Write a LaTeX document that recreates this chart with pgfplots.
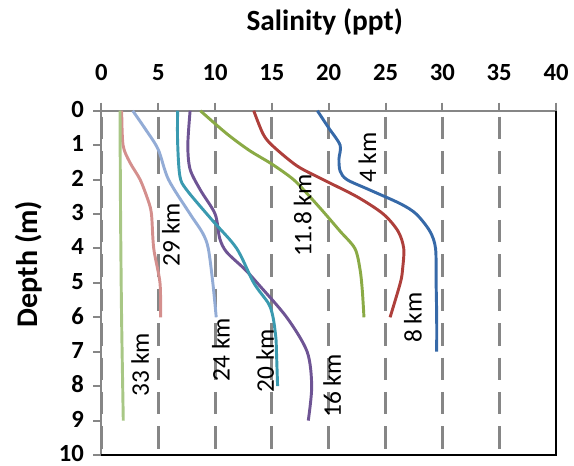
\documentclass[border=0pt]{standalone}
\usepackage{fontspec}
\setmainfont{Carlito}
\usepackage{pgfplots}
\pgfplotsset{compat=1.18}
\definecolor{axisgray}{HTML}{868686}
\definecolor{cblue}{HTML}{3669A8}
\definecolor{cred}{HTML}{AE3F3B}
\definecolor{cgreen}{HTML}{8AAA45}
\definecolor{cteal}{HTML}{3A9AB0}
\definecolor{cpurple}{HTML}{6E5494}
\definecolor{clgreen}{HTML}{A8C785}
\definecolor{cpink}{HTML}{D48F8D}
\definecolor{clblue}{HTML}{93ACD6}
\begin{document}
\begin{tikzpicture}
\useasboundingbox (-76.1pt,-7.5pt) rectangle (354.4pt,341.25pt);
\begin{axis}[
  at={(0,0)}, anchor=south west,
  scale only axis, width=340.9pt, height=258.2pt,
  xmin=0, xmax=40, ymin=0, ymax=10, y dir=reverse,
  axis x line*=top, axis y line*=left,
  axis line style={-, draw=axisgray, line width=1.5pt},
  xtick={0,5,...,40}, ytick={0,1,...,10},
  tick align=outside, major tick length=6pt,
  tick style={draw=axisgray, line width=1.5pt},
  xmajorgrids,
  major x grid style={draw=axisgray, line width=2.2pt, dash pattern=on 16.8pt off 9pt, dash phase=21.3pt},
  /pgf/number format/assume math mode=true,
  ticklabel style={font=\bfseries\fontsize{18.5}{20}\selectfont},
  xticklabel style={yshift=13pt},
  yticklabel style={xshift=-6pt, yshift=1.2pt, inner sep=1pt},
  title={Salinity (ppt)},
  title style={at={(axis description cs:0.491,1.236)}, anchor=center, font=\bfseries\fontsize{22}{24}\selectfont},
  ylabel={Depth (m)},
  ylabel style={at={(axis description cs:-0.1606,0.5548)}, anchor=center, font=\bfseries\fontsize{22.5}{24}\selectfont},
  every axis plot/.append style={line width=2.2pt, smooth, tension=0.5, no markers},
  clip=false,
]
\draw[black, line width=1.5pt] (axis cs:0,10) -- (axis cs:40,10) -- (axis cs:40,0);
% 4 km
\addplot[cblue] coordinates {(19.0,0) (20.0,0.5) (21.0,1) (20.9,1.4) (21.0,1.75) (21.6,2) (23.6,2.3) (26.3,2.7) (27.7,3) (28.9,3.5) (29.4,4) (29.45,5) (29.5,6) (29.5,7)};
% 8 km
\addplot[cred] coordinates {(13.4,0) (14.2,0.66) (15.0,1) (17.2,1.6) (19.5,2) (22.5,2.5) (24.8,3) (26.1,3.5) (26.6,4) (26.5,4.6) (26.3,5) (25.4,6)};
% 11.8 km
\addplot[cgreen] coordinates {(8.7,0) (11.0,0.66) (13.0,1.15) (15.0,1.55) (16.9,2) (18.35,2.5) (19.7,3) (21.0,3.5) (22.3,4) (22.75,4.6) (22.95,5.2) (23.1,6)};
% 16 km
\addplot[cpurple] coordinates {(7.8,0) (7.6,1) (7.8,1.7) (8.7,2.3) (10.0,3) (10.4,3.7) (11.0,4.1) (12.6,4.6) (13.7,5) (16.3,6) (18.1,7) (18.5,8) (18.2,9)};
% 20 km
\addplot[cteal] coordinates {(6.7,0) (6.7,0.9) (6.9,1.9) (7.5,2.3) (9.8,3.2) (11.9,4) (13.4,5) (14.7,5.6) (15.1,6) (15.35,6.6) (15.4,7) (15.5,8)};
% 24 km
\addplot[clblue] coordinates {(2.75,0) (3.9,0.55) (5.0,1.13) (5.9,2) (7.8,3) (8.9,3.55) (9.4,4) (9.8,5) (10.1,6)};
% 29 km
\addplot[cpink] coordinates {(1.78,0) (1.9,1) (2.5,1.5) (3.4,2) (4.1,2.6) (4.4,3) (4.6,4) (5.15,5) (5.2,6)};
% 33 km
\addplot[clgreen] coordinates {(1.63,0) (1.68,3) (1.77,6) (1.92,9)};
\begin{scope}[every node/.style={rotate=90, font=\fontsize{19}{19}\selectfont, inner sep=0pt}]
\node at (axis cs:23.4,1.36) {4 km};
\node at (axis cs:17.7,3.05) {11.8 km};
\node at (axis cs:6.1,3.6) {29 km};
\node at (axis cs:3.4,7.38) {33 km};
\node at (axis cs:10.5,6.94) {24 km};
\node at (axis cs:14.4,7.26) {20 km};
\node at (axis cs:20.3,8.0) {16 km};
\node at (axis cs:27.4,6.01) {8 km};
\end{scope}
\end{axis}
\end{tikzpicture}
\end{document}
